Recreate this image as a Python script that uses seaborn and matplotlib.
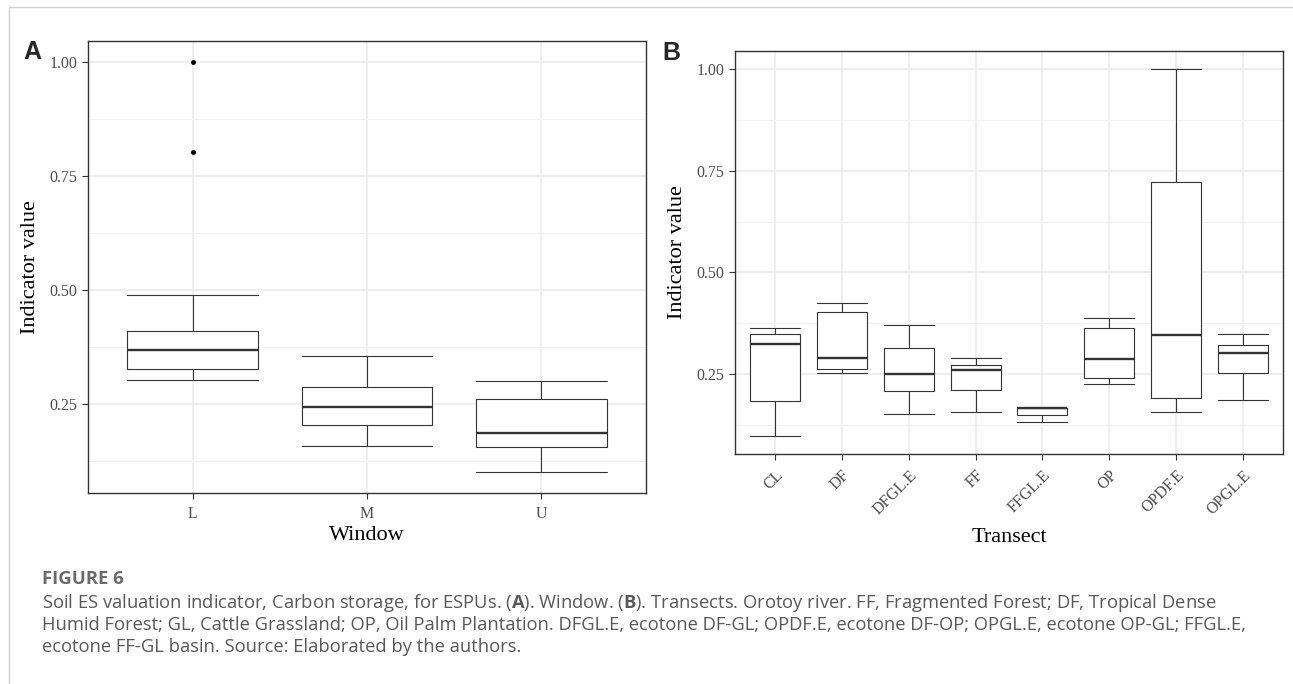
import numpy as np
import pandas as pd
import matplotlib.pyplot as plt
from matplotlib.lines import Line2D
from matplotlib.ticker import MultipleLocator, FormatStrFormatter
import seaborn as sns

"""## Values read off the figure (five-number summaries)"""

# Panel A: by window
window_labels = ["L", "M", "U"]
window_low = [0.303, 0.158, 0.100]
window_q1 = [0.326, 0.204, 0.156]
window_med = [0.368, 0.243, 0.186]
window_q3 = [0.409, 0.287, 0.260]
window_high = [0.489, 0.354, 0.299]
outlier_window = ["L", "L"]
outlier_value = [1.00, 0.801]

# Panel B: by transect
transect_labels = ["CL", "DF", "DFGL.E", "FF", "FFGL.E", "OP", "OPDF.E", "OPGL.E"]
transect_low = [0.099, 0.254, 0.152, 0.158, 0.133, 0.227, 0.156, 0.186]
transect_q1 = [0.185, 0.262, 0.208, 0.210, 0.150, 0.240, 0.191, 0.252]
transect_med = [0.324, 0.291, 0.250, 0.261, 0.166, 0.288, 0.347, 0.301]
transect_q3 = [0.350, 0.403, 0.315, 0.273, 0.167, 0.364, 0.723, 0.322]
transect_high = [0.364, 0.426, 0.371, 0.289, 0.167, 0.387, 1.000, 0.350]

caption_title = "FIGURE 6"
caption_lines = [
    r"Soil ES valuation indicator, Carbon storage, for ESPUs. ($\mathbf{A}$). Window. ($\mathbf{B}$). "
    "Transects. Orotoy river. FF, Fragmented Forest; DF, Tropical Dense",
    "Humid Forest; GL, Cattle Grassland; OP, Oil Palm Plantation. DFGL.E, ecotone DF-GL; "
    "OPDF.E, ecotone DF-OP; OPGL.E, ecotone OP-GL; FFGL.E,",
    "ecotone FF-GL basin. Source: Elaborated by the authors.",
]


def long_table(labels, cols, name):
    # five values per group -> quartiles come out exactly as read
    rows = []
    for i, lab in enumerate(labels):
        for col in cols:
            rows.append({name: lab, "value": col[i]})
    return pd.DataFrame(rows)


window_df = long_table(
    window_labels, [window_low, window_q1, window_med, window_q3, window_high], "Window"
)
transect_df = long_table(
    transect_labels,
    [transect_low, transect_q1, transect_med, transect_q3, transect_high],
    "Transect",
)
outlier_df = pd.DataFrame({"Window": outlier_window, "value": outlier_value})

sns.set_theme(style="white")
plt.rcParams["font.family"] = ["Liberation Serif", "DejaVu Serif"]
plt.rcParams["mathtext.fontset"] = "custom"
plt.rcParams["mathtext.rm"] = "Open Sans"
plt.rcParams["mathtext.bf"] = "Open Sans:bold"

W, H = 1293, 684
fig = plt.figure(figsize=(W / 100, H / 100), dpi=100)


def px_axes(left, top, right, bottom):
    return fig.add_axes([left / W, 1 - bottom / H, (right - left) / W, (bottom - top) / H])


ax_a = px_axes(88, 41, 646, 492.7)
ax_b = px_axes(735, 50.7, 1283, 454)

box_kw = dict(
    color="white",
    linecolor="#333333",
    linewidth=0.8,
    width=0.75,
    capwidths=0.75,
    fliersize=0,
    medianprops=dict(color="#333333", linewidth=1.7),
)

sns.boxplot(data=window_df, x="Window", y="value", order=window_labels, ax=ax_a, **box_kw)
sns.stripplot(
    data=outlier_df, x="Window", y="value", order=window_labels,
    jitter=False, color="black", size=3.6, ax=ax_a,
)
sns.boxplot(data=transect_df, x="Transect", y="value", order=transect_labels, ax=ax_b, **box_kw)


def style_axes(ax, n, lo, hi, xlabel):
    pad = (hi - lo) * 0.05
    ax.set_ylim(lo - pad, hi + pad)
    ax.set_xlim(-0.6, n - 0.4)
    ax.yaxis.set_major_locator(MultipleLocator(0.25))
    ax.yaxis.set_minor_locator(MultipleLocator(0.125))
    ax.yaxis.set_major_formatter(FormatStrFormatter("%.2f"))
    ax.set_axisbelow(True)
    ax.grid(which="major", color="#ebebeb", linewidth=1.1)
    ax.grid(which="minor", axis="y", color="#f2f2f2", linewidth=0.7)
    for sp in ax.spines.values():
        sp.set_color("#333333")
        sp.set_linewidth(1.0)
    ax.tick_params(which="major", direction="out", length=4, width=0.8,
                   color="#333333", labelcolor="#4d4d4d", labelsize=11.5,
                   left=True, bottom=True)
    ax.tick_params(axis="y", pad=3.5)
    ax.tick_params(axis="x", pad=5.5)
    ax.tick_params(which="minor", length=0)
    ax.set_xlabel(xlabel, fontsize=16, color="black")
    ax.set_ylabel("Indicator value", fontsize=16, color="black")
    ax.xaxis.label.set_va("center")
    ax.yaxis.label.set_va("center")


style_axes(ax_a, len(window_labels), min(window_low), max(outlier_value), "Window")
style_axes(ax_b, len(transect_labels), min(transect_low), max(transect_high), "Transect")

ax_a.xaxis.set_label_coords(0.5, -43 / 451.7)
ax_a.yaxis.set_label_coords(-57 / 558, 0.5)
ax_b.xaxis.set_label_coords(0.5, -83 / 403.3)
ax_b.yaxis.set_label_coords(-58 / 548, 0.5)

for lab in ax_b.get_xticklabels():
    lab.set_rotation(45)
    lab.set_ha("right")
    lab.set_va("top")
    lab.set_rotation_mode("anchor")

# panel letters
fig.text(32 / W, 1 - 52 / H, "A", fontsize=18, fontweight="bold",
         family="Liberation Sans", ha="center", va="center")
fig.text(671 / W, 1 - 53 / H, "B", fontsize=18, fontweight="bold",
         family="Liberation Sans", ha="center", va="center")

# caption
fig.text(42 / W, 1 - 579 / H, caption_title, fontsize=13.3, fontweight="bold",
         family="Open Sans", color="#6b6b6b", va="center")
for i, line in enumerate(caption_lines):
    fig.text(42 / W, 1 - (603 + 22 * i) / H, line, fontsize=13.2,
             family="Open Sans", color="#595959", va="center")

# page frame lines
fig.add_artist(Line2D([9 / W, 1], [1 - 7 / H, 1 - 7 / H], color="#d0d0d0",
                      linewidth=1, transform=fig.transFigure))
fig.add_artist(Line2D([9 / W, 9 / W], [0, 1 - 7 / H], color="#d0d0d0",
                      linewidth=1, transform=fig.transFigure))

fig.savefig("out.png", dpi=100)
